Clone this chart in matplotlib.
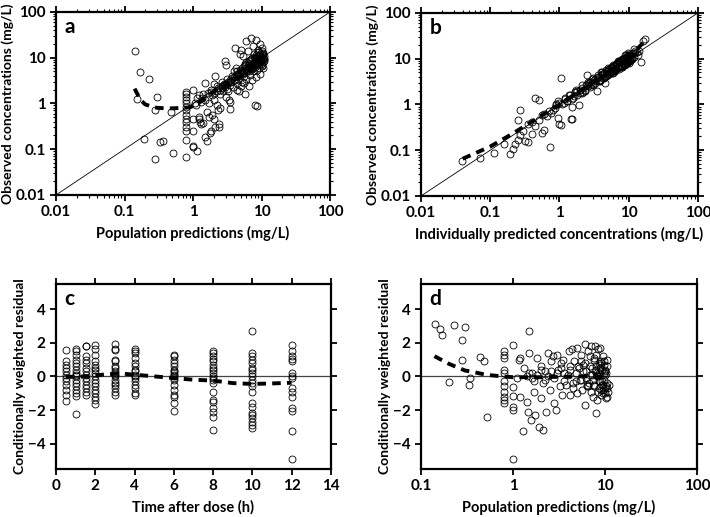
import numpy as np
import matplotlib.pyplot as plt

plt.rcParams['font.family'] = ['Lato', 'DejaVu Sans']
plt.rcParams['font.weight'] = 'bold'

# ---- panel a: population predictions vs observed (mg/L)
a_pred = [0.143, 0.166, 0.225, 0.152, 0.30, 0.28, 0.194, 0.33, 0.36, 0.28, 0.51, 0.47, 0.80,
          0.8, 0.8, 0.8, 0.8, 0.8, 0.8, 0.8, 0.8, 0.8, 0.8, 0.8, 0.8, 0.8,
          1.0, 1.0, 1.0, 1.0, 1.0, 1.15,
          1.05, 1.1, 1.15, 1.2, 1.2, 1.25, 1.3, 1.3, 1.4, 1.4, 1.5, 1.5, 1.5, 1.6, 1.6, 1.7, 1.7, 1.75,
          1.8, 1.8, 1.9, 1.9, 2.0, 2.0, 2.0, 2.1, 2.1, 2.2, 2.2, 2.3, 2.3, 2.4, 2.4, 2.5, 2.5, 2.6,
          2.7, 2.8, 2.9, 3.0, 3.0, 3.1, 3.2, 3.3, 3.4, 3.5, 3.5, 3.6, 3.8, 3.9, 4.0, 4.1, 4.2, 4.3,
          4.4, 4.5, 4.6, 4.7, 4.8, 4.9, 5.0, 5.0, 5.2, 5.3, 5.4, 5.5, 5.6, 5.8, 5.9, 6.0, 6.0, 6.2,
          6.3, 6.5, 6.6, 6.8, 7.0, 7.0, 7.2, 7.3, 7.5, 7.6, 7.8, 8.0, 8.0, 8.2, 8.4, 8.5, 8.6, 8.7,
          8.8, 9.0, 9.2, 9.4, 9.5, 9.6, 9.8, 10.0, 10.2, 10.4, 10.6, 10.8, 11.0,
          2.6, 2.8, 3.0, 3.2, 3.5, 3.7, 4.0, 4.2, 4.5, 4.8, 5.0, 5.3, 5.6, 6.0, 6.3, 6.6, 7.0, 7.4,
          7.8, 8.2, 8.6, 9.0, 9.4, 9.8, 10.2, 10.5, 5.5, 6.5, 7.5, 8.5, 9.5, 10.0, 8.0, 9.0, 10.5,
          6.8, 7.7, 8.8, 9.3, 10.1, 10.7, 4.4, 5.1, 5.8, 6.4, 7.1, 7.9, 8.3, 9.1, 9.7, 10.3,
          1.2, 1.35, 1.65, 1.85, 2.05, 2.25, 2.45, 2.65, 2.95, 3.15, 3.45, 3.75, 4.05, 4.35, 4.65,
          5.15, 5.45, 5.75, 6.15, 6.45, 6.95, 7.35, 7.65, 8.15, 8.65, 9.15, 9.65, 10.15, 10.65]
a_obs = [14.2, 4.8, 3.5, 1.25, 1.35, 0.73, 0.166, 0.14, 0.15, 0.06, 0.082, 0.65, 0.068,
         1.8, 1.6, 1.4, 1.2, 1.0, 0.85, 0.7, 0.55, 0.45, 0.4, 0.3, 0.25, 0.16,
         2.0, 0.45, 0.25, 0.12, 0.11, 0.09,
         1.0, 0.9, 1.3, 0.5, 0.45, 0.4, 0.35, 1.1, 1.6, 0.38, 1.2, 0.18, 2.8, 0.65, 0.15, 1.0, 0.5, 0.22,
         0.25, 1.8, 1.5, 0.55, 2.6, 0.45, 1.2, 0.3, 4.0, 1.9, 0.9, 0.7, 2.2, 0.35, 0.3, 1.6, 0.8, 2.4,
         1.9, 2.7, 8.5, 7.0, 1.4, 2.1, 1.9, 1.2, 1.1, 0.75, 2.5, 3.0, 2.3, 3.3, 5.0, 16.0, 6.0, 2.8,
         2.0, 3.5, 1.9, 4.2, 12.0, 5.5, 2.4, 15.0, 3.0, 4.5, 11.0, 2.8, 6.5, 1.6, 8.0, 23.0, 3.5, 5.0,
         14.0, 2.4, 7.0, 4.2, 27.0, 9.5, 3.2, 6.0, 18.0, 5.0, 12.0, 0.9, 7.5, 3.8, 24.0, 10.0, 0.88, 5.5,
         15.0, 8.0, 6.0, 20.0, 12.0, 4.5, 9.0, 7.0, 14.0, 10.0, 6.0, 8.5, 11.0,
         2.2, 2.5, 2.7, 3.0, 3.2, 3.6, 3.8, 4.1, 4.3, 4.7, 5.2, 5.0, 5.4, 5.8, 6.4, 6.2, 6.8, 7.2,
         7.6, 8.4, 8.8, 9.4, 9.0, 10.5, 9.6, 12.0, 4.0, 5.2, 6.0, 7.0, 8.2, 11.5, 10.5, 13.0, 8.0,
         8.8, 9.8, 11.0, 7.3, 6.6, 9.3, 3.9, 4.6, 6.9, 7.8, 5.7, 6.3, 9.9, 10.8, 7.1, 12.5,
         1.5, 1.3, 1.7, 2.0, 1.7, 2.4, 2.0, 2.9, 2.3, 3.5, 2.9, 4.0, 3.3, 5.2, 4.1,
         6.0, 4.8, 7.3, 5.4, 8.6, 6.1, 9.8, 7.0, 11.5, 7.4, 13.5, 9.0, 16.0, 9.4]
a_fit_x = [0.14, 0.17, 0.2, 0.25, 0.3, 0.4, 0.5, 0.7, 0.9, 1.0, 1.3, 1.6, 2.0, 3.0, 5.0, 8.0, 10.0]
a_fit_y = [2.1, 1.2, 0.95, 0.85, 0.8, 0.78, 0.78, 0.8, 0.82, 0.88, 1.1, 1.4, 1.8, 2.5, 4.0, 6.5, 8.0]

# ---- panel b: individual predictions vs observed (mg/L)
b_ipred = [0.039, 0.071, 0.114, 0.157, 0.19, 0.21, 0.23, 0.25, 0.27, 0.30, 0.32, 0.35, 0.40, 0.45,
           0.50, 0.55, 0.60, 0.65, 0.72, 0.95, 1.0, 1.05, 1.45, 1.5, 1.05, 0.27, 0.25, 0.45, 0.5,
           15.0, 17.0, 16.0, 2.5, 3.5, 4.5, 1.5, 1.9, 0.8, 0.9, 0.75,
           0.85, 0.9, 1.0, 1.1, 1.2, 1.3, 1.4, 1.6, 1.7, 1.8, 2.0, 2.1, 2.2, 2.4, 2.6, 2.8, 3.0, 3.2,
           3.4, 3.6, 3.8, 4.0, 4.2, 4.4, 4.6, 4.8, 5.0, 5.2, 5.4, 5.6, 5.8, 6.0, 6.2, 6.4, 6.6, 6.8,
           7.0, 7.2, 7.4, 7.6, 7.8, 8.0, 8.2, 8.4, 8.6, 8.8, 9.0, 9.2, 9.4, 9.6, 9.8, 10.0, 10.3,
           10.6, 11.0, 11.5, 12.0, 13.0, 14.0, 1.2, 1.5, 1.8, 2.3, 2.7, 3.1, 3.5, 3.9, 4.3, 4.7, 5.1,
           5.5, 5.9, 6.3, 6.7, 7.1, 7.5, 7.9, 8.3, 8.7, 9.1, 9.5, 9.9, 10.5, 11.2, 12.5, 1.3, 1.7,
           2.1, 2.5, 2.9, 3.3, 3.7, 4.1, 4.5, 4.9, 5.3, 5.7, 6.1, 6.5, 6.9, 7.3, 7.7, 8.1, 8.5, 8.9,
           9.3, 9.7, 10.1, 10.8, 11.8, 0.6, 0.7, 0.55, 0.4, 0.35,
           0.95, 1.15, 1.35, 1.55, 1.75, 1.95, 2.15, 2.35, 2.55, 2.75, 2.95, 3.25, 3.55, 3.85,
           4.15, 4.45, 4.75, 5.05, 5.35, 5.65, 5.95, 6.35, 6.75, 7.15, 7.55, 7.95, 8.35, 8.75,
           9.15, 9.55, 9.95, 10.4, 11.3, 12.2, 13.5, 6.0, 7.0, 8.0, 9.0, 10.0, 5.0, 4.0, 3.0]
b_obs = [0.059, 0.068, 0.087, 0.136, 0.083, 0.108, 0.14, 0.17, 0.22, 0.26, 0.16, 0.15, 0.23, 0.33,
         0.45, 0.24, 0.28, 0.55, 0.12, 0.5, 0.38, 0.35, 0.47, 0.48, 3.7, 0.75, 0.45, 1.4, 1.25,
         8.5, 27.0, 24.0, 4.5, 2.0, 3.0, 0.9, 0.95, 0.75, 0.95, 0.65,
         0.85, 1.0, 1.1, 1.0, 1.3, 1.2, 1.6, 1.5, 1.9, 1.6, 2.1, 2.3, 1.9, 2.6, 2.5, 3.1, 2.8, 3.5,
         3.2, 3.9, 3.4, 4.3, 3.8, 4.9, 4.1, 5.3, 4.6, 5.8, 5.0, 6.2, 5.3, 6.8, 5.7, 7.2, 6.1, 7.8,
         6.6, 8.1, 6.9, 8.6, 7.3, 9.0, 7.6, 9.6, 8.0, 10.2, 8.4, 10.6, 8.9, 11.0, 9.3, 11.5, 9.6,
         12.0, 10.0, 13.0, 11.0, 14.0, 15.0, 1.4, 1.3, 2.0, 2.1, 3.0, 2.7, 3.8, 3.5, 4.5, 4.2, 5.7,
         5.2, 6.4, 5.9, 7.5, 6.5, 8.3, 7.0, 9.3, 7.8, 10.4, 8.2, 11.3, 9.5, 12.5, 13.5, 1.2, 1.9,
         1.8, 2.8, 2.6, 3.6, 3.2, 4.6, 4.0, 5.5, 4.9, 6.6, 5.5, 7.7, 6.2, 8.8, 6.9, 9.8, 7.4, 11.8,
         8.6, 13.2, 9.0, 10.0, 16.0, 0.62, 0.72, 0.6, 0.42, 0.38,
         1.2, 1.05, 1.6, 1.35, 2.1, 1.75, 2.6, 2.0, 3.1, 2.4, 3.6, 2.9, 4.3, 3.3,
         5.0, 3.8, 5.6, 4.3, 6.3, 4.8, 7.1, 5.3, 8.0, 6.0, 8.9, 6.6, 10.0, 7.2,
         10.9, 8.0, 12.5, 8.7, 10.2, 14.5, 12.0, 4.8, 9.0, 6.5, 11.8, 8.0, 6.2, 5.0, 3.8]
b_fit_x = [0.04, 0.1, 0.2, 0.4, 0.7, 1.0, 2.0, 5.0, 10.0, 17.0]
b_fit_y = [0.065, 0.12, 0.22, 0.42, 0.72, 1.0, 2.0, 5.0, 10.5, 24.0]

# ---- panel c: CWRES vs time after dose (h)
c_time = [0.5] * 12 + [1] * 17 + [1.5] * 14 + [2] * 17 + [3] * 17 + [4] * 16 + [6] * 18 + [8] * 20 + [10] * 21 + [12] * 15
c_cwres = [1.56, 0.9, 0.7, 0.5, 0.3, 0.1, -0.1, -0.3, -0.5, -0.8, -1.1, -1.44,
           1.64, 1.5, 1.3, 1.0, 0.8, 0.6, 0.4, 0.2, 0.1, 0.0, -0.2, -0.4, -0.6, -0.8, -1.0, -1.16, -2.24,
           1.8, 1.78, 1.2, 1.0, 0.8, 0.5, 0.3, 0.1, -0.1, -0.3, -0.5, -0.7, -0.9, -1.1,
           1.85, 1.6, 1.25, 0.9, 0.7, 0.5, 0.35, 0.2, 0.0, -0.2, -0.4, -0.6, -0.8, -1.0, -1.2, -1.4, -1.65,
           1.9, 1.65, 1.55, 1.0, 0.9, 0.6, 0.5, 0.3, 0.2, 0.1, 0.0, -0.2, -0.4, -0.5, -0.7, -0.9, -1.1,
           1.6, 1.5, 1.4, 1.1, 0.8, 0.6, 0.4, 0.3, 0.1, 0.0, -0.1, -0.3, -0.5, -0.7, -1.0, -1.1,
           1.3, 1.2, 1.0, 0.8, 0.6, 0.4, 0.3, 0.2, 0.1, 0.0, -0.1, -0.2, -0.5, -0.8, -1.1, -1.2, -1.6, -2.05,
           1.5, 1.36, 1.2, 1.04, 0.9, 0.7, 0.5, 0.36, 0.2, 0.04, -0.1, -0.24, -0.4, -0.9, -1.4, -1.5, -1.9, -2.1, -2.4, -3.2,
           2.7, 1.4, 1.2, 1.0, 0.8, 0.5, 0.4, 0.2, 0.0, -0.2, -0.4, -0.6, -0.9, -1.6, -1.8, -2.2, -2.3, -2.5, -2.7, -2.9, -3.05,
           1.84, 1.5, 1.2, 1.04, 0.9, 0.2, 0.04, -0.1, -0.7, -0.9, -1.24, -1.9, -2.04, -3.24, -4.94]
c_fit_x = [0.5, 1, 1.5, 2, 2.5, 3, 3.5, 4, 5, 6, 7, 8, 9, 10, 11, 12]
c_fit_y = [-0.02, -0.03, 0.0, 0.05, 0.12, 0.15, 0.15, 0.1, 0.0, -0.1, -0.2, -0.25, -0.4, -0.45, -0.42, -0.38]

# ---- panel d: CWRES vs population predictions (mg/L)
d_pred = [0.143, 0.159, 0.169, 0.23, 0.30, 0.28, 0.28, 0.2, 0.33, 0.34, 0.44, 0.48, 0.52,
          0.8, 0.8, 0.8, 0.8, 0.8, 0.8, 0.8, 0.8, 0.8, 0.8, 0.8,
          1.0, 1.0, 1.0, 1.0, 1.0, 1.0, 1.5, 1.2, 1.28, 1.15, 1.2,
          1.1, 1.3, 1.4, 1.45, 1.5, 1.55, 1.6, 1.7, 1.75, 1.8, 1.9, 2.0, 2.0, 2.1, 2.1, 2.2, 2.3,
          2.4, 2.5, 2.6, 2.7, 2.8, 2.9, 3.0, 3.1, 3.2, 3.3, 3.4, 3.5, 3.6, 3.8, 4.0, 4.1, 4.2, 4.4,
          4.5, 4.6, 4.8, 5.0, 5.0, 5.2, 5.3, 5.5, 5.6, 5.8, 6.0, 6.0, 6.2, 6.3, 6.5, 6.6, 6.8, 7.0,
          7.0, 7.2, 7.3, 7.5, 7.6, 7.8, 8.0, 8.0, 8.2, 8.4, 8.5, 8.6, 8.7, 8.8, 9.0, 9.0, 9.2, 9.4,
          9.5, 9.6, 9.8, 10.0, 10.0, 10.2, 10.4, 10.6, 10.8, 11.0,
          1.4, 1.5, 1.6, 1.7, 1.8, 2.0, 2.2, 2.4, 2.6, 2.8, 3.0, 3.3, 3.6, 3.9, 4.2, 4.5, 4.8, 5.1,
          5.4, 5.7, 6.0, 6.4, 6.8, 7.2, 7.6, 8.0, 8.4, 8.8, 9.2, 9.6, 10.0, 10.4, 7.8, 8.3, 8.9,
          9.3, 9.9, 10.5, 8.1, 8.6, 9.1, 9.7, 10.3, 6.2, 6.9, 7.4,
          8.0, 8.5, 9.0, 9.5, 10.0, 10.5, 8.2, 8.8, 9.4, 10.1, 7.5, 6.5, 5.5]
d_cwres = [3.1, 2.8, 2.44, 3.06, 2.96, 2.14, 0.96, -0.36, -0.5, -0.1, 1.16, 0.9, -2.4,
           1.5, 1.3, 1.1, 0.4, 0.2, -0.3, -0.6, -0.9, -1.2, -1.4, -1.6,
           1.84, -1.8, -2.0, -0.64, -1.16, -4.9, 2.7, -1.2, -3.24, 1.0, 1.1,
           -0.1, 0.5, -1.5, -2.1, 1.4, -2.6, 0.2, -0.9, -2.3, 1.1, -3.0, 0.6, -1.3, -3.2, -0.4, 0.3,
           -2.1, 1.4, -0.8, 0.9, 1.2, -1.6, -2.0, 1.3, 0.4, -0.6, 0.8, -1.1, 1.0, 0.2, -0.5, 1.5,
           -1.1, 0.6, 1.6, -0.7, 0.9, -0.3, 1.7, -1.0, 0.5, -0.2, 1.3, -0.8, 0.7, 1.9, -1.7, 0.3,
           -0.6, 1.5, -0.4, 1.2, 1.8, -0.9, 0.1, -1.2, 1.0, -0.5, 1.8, -2.2, 0.6, -1.4, 1.6, 0.2,
           -0.7, 1.7, -0.3, 0.9, -1.1, 0.4, -0.8, 1.2, -0.2, 0.7, -1.0, 0.3, -0.6, 0.6, -0.4,
           -0.9, -0.5, 0.0, 0.2, -0.1, -0.3, 0.1, 0.4, -0.2, 0.0, 0.3, -0.1, 0.2, 0.5, -0.3, 0.1,
           0.4, -0.4, 0.2, 0.6, -0.2, 0.3, 0.8, -0.5, 0.1, 0.5, -0.6, 0.4, 0.0, 0.7, -0.3, 0.2,
           -0.7, 1.0, 0.3, -0.9, 0.5, -0.5, 0.1, -1.2, 0.0, 0.8, -0.8, 0.9, -1.3, -0.1, 0.6, -0.2,
           1.3, -0.3, 0.8, -1.0, 0.4, -0.7, 0.1, 0.5, -0.5, 0.2, 1.1, -0.6, 0.9]
d_fit_x = [0.14, 0.2, 0.3, 0.4, 0.5, 0.7, 1.0, 2.0, 5.0, 10.0]
d_fit_y = [1.2, 0.75, 0.35, 0.22, 0.1, 0.02, -0.05, -0.05, 0.0, 0.0]

fig = plt.figure(figsize=(7.1, 5.17), dpi=100)
ax_a = fig.add_axes([0.079, 0.623, 0.386, 0.354])
ax_b = fig.add_axes([0.593, 0.621, 0.390, 0.354])
ax_c = fig.add_axes([0.079, 0.093, 0.387, 0.358])
ax_d = fig.add_axes([0.593, 0.093, 0.389, 0.358])

pts = dict(marker='o', linestyle='none', markersize=5, markerfacecolor='none',
           markeredgecolor='black', markeredgewidth=0.6)
fit = dict(color='black', linestyle=(0, (2.2, 1.6)), linewidth=2.8)


def style(ax, letter, xlabel, ylabel):
    for sp in ax.spines.values():
        sp.set_linewidth(1.6)
    ax.tick_params(which='both', direction='out', top=True, right=True, width=1.3,
                   labelsize=11)
    ax.tick_params(which='major', length=4)
    ax.tick_params(which='minor', length=2.5, width=0.8)
    ax.set_xlabel(xlabel, fontsize=10.5, fontweight='bold', labelpad=5)
    ax.set_ylabel(ylabel, fontsize=10, fontweight='bold', labelpad=1)
    ax.text(0.03, 0.97, letter, transform=ax.transAxes, fontsize=15, fontweight='bold',
            va='top', ha='left')


def logfmt(v, pos):
    return '{:g}'.format(v)


for ax, x, y, fx, fy, letter, xl in [
        (ax_a, a_pred, a_obs, a_fit_x, a_fit_y, 'a', 'Population predictions (mg/L)'),
        (ax_b, b_ipred, b_obs, b_fit_x, b_fit_y, 'b', 'Individually predicted concentrations (mg/L)')]:
    ax.set_xscale('log')
    ax.set_yscale('log')
    ax.plot([0.01, 100], [0.01, 100], color='black', linewidth=0.6)
    ax.plot(x, y, **pts)
    ax.plot(fx, fy, **fit)
    ax.set_xlim(0.01, 100)
    ax.set_ylim(0.01, 100)
    ax.xaxis.set_major_formatter(plt.FuncFormatter(logfmt))
    ax.yaxis.set_major_formatter(plt.FuncFormatter(logfmt))
    style(ax, letter, xl, 'Observed concentrations (mg/L)')

ax_c.axhline(0, color='#444444', linewidth=0.9)
ax_c.plot(c_time, c_cwres, **pts)
ax_c.plot(c_fit_x, c_fit_y, **fit)
ax_c.set_xlim(0, 14)
ax_c.set_ylim(-5.5, 5.5)
ax_c.set_xticks(range(0, 15, 2))
ax_c.set_yticks([-4, -2, 0, 2, 4])
style(ax_c, 'c', 'Time after dose (h)', 'Conditionally weighted residual')

ax_d.set_xscale('log')
ax_d.axhline(0, color='#444444', linewidth=0.9)
ax_d.plot(d_pred, d_cwres, **pts)
ax_d.plot(d_fit_x, d_fit_y, **fit)
ax_d.set_xlim(0.1, 100)
ax_d.set_ylim(-5.5, 5.5)
ax_d.set_yticks([-4, -2, 0, 2, 4])
ax_d.xaxis.set_major_formatter(plt.FuncFormatter(logfmt))
ax_d.xaxis.set_minor_locator(plt.NullLocator())
style(ax_d, 'd', 'Population predictions (mg/L)', 'Conditionally weighted residual')

fig.savefig('out.png', dpi=100)
